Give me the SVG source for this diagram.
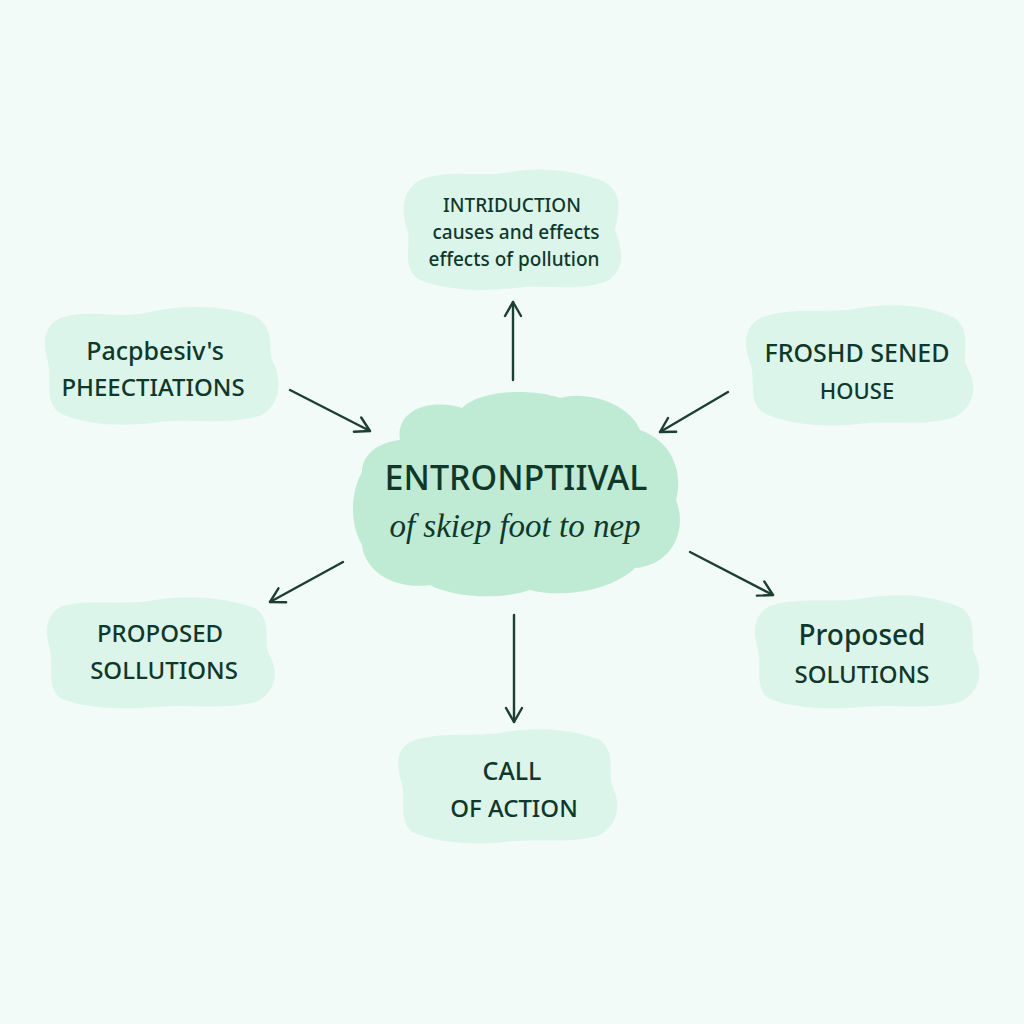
<svg xmlns="http://www.w3.org/2000/svg" width="1024" height="1024" viewBox="0 0 1024 1024">
<style>
.blob{fill:#dcf5ea}
.cblob{fill:#bfead4}
.t{font-family:"Noto Sans","Liberation Sans",sans-serif;fill:#10382a;text-anchor:middle;font-weight:500}
.s{font-family:"Liberation Serif",serif;font-style:italic;fill:#10382a;text-anchor:middle}
.c{stroke:#1d3f31;stroke-width:2.4;fill:none;stroke-linecap:round}
</style>
<defs>
<marker id="ah" viewBox="0 0 20 20" refX="18" refY="10" markerWidth="20" markerHeight="20" markerUnits="userSpaceOnUse" orient="auto">
<path d="M4,2 L18,10 L4,18" fill="none" stroke="#1d3f31" stroke-width="2.4" stroke-linecap="round" stroke-linejoin="round"/>
</marker>
</defs>
<rect width="1024" height="1024" fill="#f2fbf8"/>
<g id="connectors">
<line class="c" x1="513" y1="380" x2="513" y2="302" marker-end="url(#ah)"/>
<line class="c" x1="290" y1="390" x2="370" y2="431" marker-end="url(#ah)"/>
<line class="c" x1="728" y1="392" x2="660" y2="432" marker-end="url(#ah)"/>
<line class="c" x1="343" y1="562" x2="270" y2="602" marker-end="url(#ah)"/>
<line class="c" x1="690" y1="552" x2="773" y2="595" marker-end="url(#ah)"/>
<line class="c" x1="514" y1="615" x2="514" y2="722" marker-end="url(#ah)"/>
</g>
<g id="node-intro">
<path class="blob" d="M420,180 C450,168 480,178 510,172 C545,166 580,172 605,182 C625,195 618,215 615,230 C622,248 628,270 605,282 C575,292 545,284 515,288 C480,292 445,290 420,280 C402,270 410,250 408,232 C400,212 402,190 420,180 Z"/>
<text class="t" x="512" y="212" font-size="19">INTRIDUCTION</text>
<text class="t" x="516" y="239" font-size="19">causes and effects</text>
<text class="t" x="514" y="266" font-size="19">effects of pollution</text>
</g>
<g id="node-perspectives">
<path class="blob" d="M60,318 C90,308 120,320 150,312 C185,304 225,306 255,316 C275,328 268,345 272,360 C282,378 282,402 262,415 C230,426 195,418 160,422 C120,428 80,424 58,412 C44,400 52,380 48,362 C42,342 44,326 60,318 Z"/>
<text class="t" x="155" y="360" font-size="25">Pacpbesiv's</text>
<text class="t" x="153" y="396" font-size="24">PHEECTIATIONS</text>
</g>
<g id="node-house">
<path class="blob" d="M760,318 C790,306 830,314 860,308 C895,302 930,306 955,318 C972,332 962,350 966,365 C978,385 976,405 955,417 C925,427 890,420 858,424 C822,428 785,424 762,412 C748,400 756,380 750,362 C742,342 746,326 760,318 Z"/>
<text class="t" x="857" y="362" font-size="25">FROSHD SENED</text>
<text class="t" x="857" y="399" font-size="22">HOUSE</text>
</g>
<g id="node-center">
<path class="cblob" d="M400,440 C395,410 430,398 462,408 C480,390 530,388 560,398 C590,390 630,405 640,430 C670,440 684,470 676,500 C688,530 672,565 635,568 C610,592 560,598 530,590 C500,600 455,598 430,585 C395,590 365,572 362,545 C348,520 352,490 362,472 C362,455 378,442 400,440 Z"/>
<text class="t" x="516" y="490" font-size="34">ENTRONPTIIVAL</text>
<text class="s" x="515" y="537" font-size="33">of skiep foot to nep</text>
</g>
<g id="node-solutions-left">
<path class="blob" d="M62,606 C92,598 125,606 155,600 C190,594 228,598 255,608 C272,620 264,638 268,652 C280,672 276,692 256,702 C225,710 190,704 158,707 C120,710 82,708 60,698 C46,686 54,668 50,650 C44,630 46,614 62,606 Z"/>
<text class="t" x="160" y="642" font-size="24">PROPOSED</text>
<text class="t" x="164" y="679" font-size="24">SOLLUTIONS</text>
</g>
<g id="node-solutions-right">
<path class="blob" d="M770,606 C800,596 835,604 865,598 C900,592 935,596 962,608 C978,620 970,638 974,652 C984,672 980,692 960,702 C930,710 895,704 862,707 C825,710 790,708 768,698 C754,686 762,668 758,650 C752,630 754,614 770,606 Z"/>
<text class="t" x="862" y="645" font-size="28">Proposed</text>
<text class="t" x="862" y="683" font-size="24">SOLUTIONS</text>
</g>
<g id="node-action">
<path class="blob" d="M410,742 C440,730 475,738 505,732 C540,726 575,730 600,740 C616,752 608,770 612,785 C622,805 618,826 598,836 C568,844 535,838 505,842 C470,846 435,842 412,832 C398,820 406,802 402,784 C396,764 396,750 410,742 Z"/>
<text class="t" x="512" y="780" font-size="25">CALL</text>
<text class="t" x="514" y="817" font-size="24">OF ACTION</text>
</g>
</svg>
